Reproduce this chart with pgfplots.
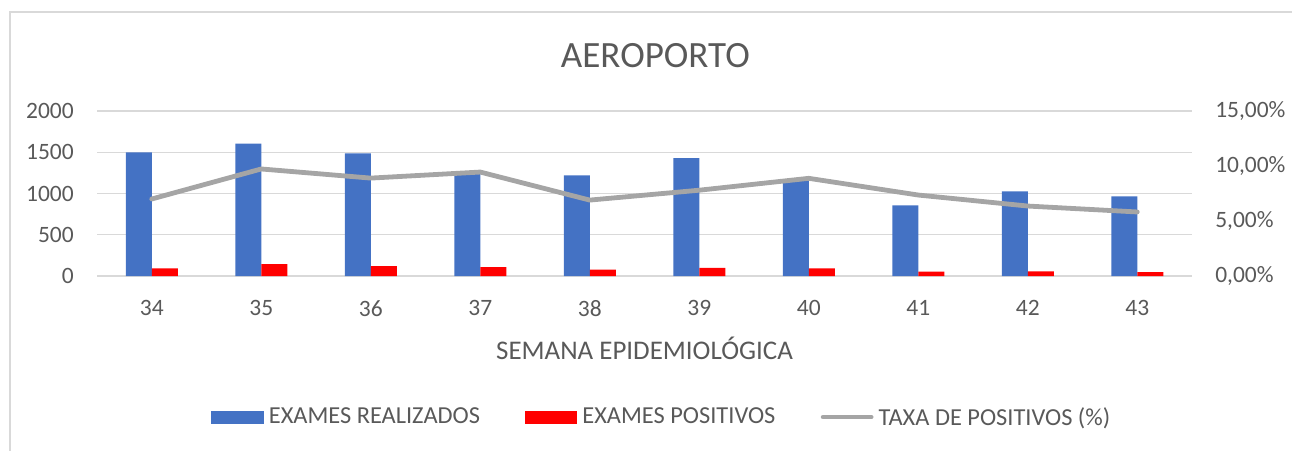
\documentclass[border=0pt]{standalone}
\usepackage{pgfplots}
\pgfplotsset{compat=1.18}
\usepackage{fontspec}
\setmainfont{Carlito}
\definecolor{txt}{HTML}{595959}
\definecolor{gridc}{HTML}{D9D9D9}
\definecolor{barblue}{HTML}{4472C4}
\definecolor{barred}{HTML}{FF0000}
\definecolor{linegray}{HTML}{A5A5A5}
\begin{document}
\begin{tikzpicture}
\path[use as bounding box] (0,0) rectangle (969pt,337.5pt);
\draw[gridc, line width=0.9pt] (7.5pt,-5pt) -- (7.5pt,328.5pt) -- (980pt,328.5pt);
\node[txt, font=\fontsize{27.8}{30}\selectfont] at (491.5pt,295.5pt) {AEROPORTO};
\begin{axis}[
  at={(72.75pt,130.5pt)}, anchor=south west, scale only axis,
  width=821.25pt, height=123.75pt,
  ybar=0pt, bar width=19.5pt,
  xmin=-0.5, xmax=9.5, ymin=0, ymax=2000,
  xtick={0,1,2,3,4,5,6,7,8,9},
  xticklabels={34,35,36,37,38,39,40,41,42,43},
  ytick={0,500,1000,1500,2000},
  yticklabels={0,500,1000,1500,2000},
  axis line style={draw=none},
  major tick length=0pt,
  ymajorgrids, grid style={gridc, line width=0.9pt},
  ticklabel style={font=\fontsize{17.6}{20}\selectfont, text=txt},
  yticklabel style={anchor=east, inner sep=0pt, xshift=-17.25pt},
  xticklabel style={anchor=north, inner sep=0pt, yshift=-18pt},
  xlabel={SEMANA EPIDEMIOLÓGICA},
  xlabel style={at={(axis description cs:0.5,-0.436)}, anchor=center, font=\fontsize{20.2}{22}\selectfont, text=txt},
  legend columns=3,
  legend cell align=left,
  legend style={at={(axis description cs:0.516,-0.855)}, anchor=center, draw=none, fill=none,
    font=\fontsize{18.3}{20}\selectfont, text=txt,
    /tikz/every even column/.append style={column sep=32pt},
    /tikz/every odd column/.append style={column sep=1.8pt}},
]
\addplot[fill=barblue, draw=none,
  legend image code/.code={\fill[barblue] (0pt,-4.9pt) rectangle (39.5pt,4.9pt);}]
  coordinates {(0,1500) (1,1604) (2,1487) (3,1240) (4,1220) (5,1430) (6,1170) (7,857) (8,1027) (9,966)};
\addlegendentry{EXAMES REALIZADOS}
\addplot[fill=barred, draw=none,
  legend image code/.code={\fill[barred] (0pt,-4.9pt) rectangle (39pt,4.9pt);}]
  coordinates {(0,93) (1,145) (2,121) (3,109) (4,77) (5,97) (6,93) (7,52) (8,57) (9,48)};
\addlegendentry{EXAMES POSITIVOS}
\addlegendimage{legend image code/.code={\draw[linegray, line width=3.6pt, line cap=round] (1.8pt,0pt) -- (37.8pt,0pt);}}
\addlegendentry{TAXA DE POSITIVOS (\%)}
\end{axis}
\begin{axis}[
  at={(72.75pt,130.5pt)}, anchor=south west, scale only axis,
  width=821.25pt, height=123.75pt,
  xmin=-0.5, xmax=9.5, ymin=0, ymax=0.15,
  axis y line*=right, axis x line=none,
  axis line style={draw=none},
  major tick length=0pt,
  ytick={0,0.05,0.1,0.15},
  yticklabels={{0,00\%},{5,00\%},{10,00\%},{15,00\%}},
  ticklabel style={font=\fontsize{17.6}{20}\selectfont, text=txt},
  yticklabel style={anchor=west, inner sep=0pt, xshift=17.25pt},
]
\addplot[linegray, line width=3.6pt, line join=round, line cap=round, mark=none]
  coordinates {(0,0.0700) (1,0.0973) (2,0.0890) (3,0.0945) (4,0.0690) (5,0.0780) (6,0.0888) (7,0.0736) (8,0.0636) (9,0.0582)};
\end{axis}
\end{tikzpicture}
\end{document}
